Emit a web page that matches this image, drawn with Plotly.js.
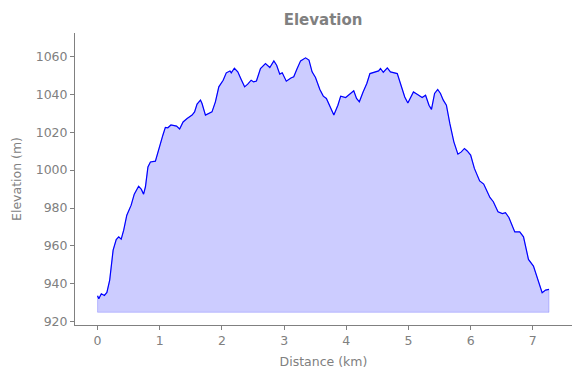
<!DOCTYPE html>
<html>
<head>
<meta charset="utf-8">
<script src="https://cdn.plot.ly/plotly-3.0.1.min.js"></script>
<style>html,body{margin:0;padding:0;background:#fff;}#chart{width:580px;height:378px;}</style>
</head>
<body>
<div id="chart"></div>
<script>
const distanceKm = [0, 0.02, 0.06, 0.11, 0.15, 0.195, 0.25, 0.30, 0.34, 0.38, 0.42, 0.47, 0.54, 0.59, 0.66, 0.705, 0.74, 0.77, 0.81, 0.85, 0.93, 0.97, 1.01, 1.05, 1.09, 1.13, 1.18, 1.27, 1.32, 1.375, 1.44, 1.52, 1.56, 1.60, 1.655, 1.68, 1.735, 1.79, 1.84, 1.895, 1.95, 2.02, 2.07, 2.13, 2.15, 2.20, 2.255, 2.31, 2.365, 2.415, 2.47, 2.51, 2.555, 2.62, 2.70, 2.77, 2.835, 2.88, 2.93, 2.97, 3.035, 3.11, 3.155, 3.21, 3.265, 3.345, 3.40, 3.45, 3.505, 3.575, 3.63, 3.68, 3.745, 3.80, 3.865, 3.91, 3.99, 4.06, 4.12, 4.165, 4.21, 4.27, 4.33, 4.38, 4.455, 4.52, 4.55, 4.595, 4.66, 4.71, 4.82, 4.885, 4.94, 4.99, 5.08, 5.14, 5.22, 5.275, 5.33, 5.37, 5.42, 5.47, 5.515, 5.56, 5.61, 5.665, 5.73, 5.795, 5.85, 5.90, 5.945, 6.00, 6.06, 6.145, 6.21, 6.31, 6.365, 6.44, 6.51, 6.56, 6.615, 6.71, 6.79, 6.85, 6.93, 7.01, 7.10, 7.15, 7.205, 7.26];
const elevationM = [933.7, 932.1, 934.8, 933.9, 935.5, 942, 957.8, 963.4, 964.8, 963.6, 968.3, 976.2, 981.5, 987.3, 991.5, 989.8, 987.3, 991.2, 1001.7, 1004.3, 1004.7, 1009.6, 1014.9, 1018.4, 1022.5, 1022.3, 1023.8, 1023.2, 1021.7, 1025.4, 1027.2, 1029, 1030.7, 1034.8, 1036.9, 1035.1, 1029, 1029.9, 1030.7, 1036, 1043.9, 1047.4, 1051.3, 1052.3, 1051.3, 1053.7, 1051.8, 1047.8, 1043.9, 1045.3, 1047.4, 1046.5, 1047, 1053.6, 1056.2, 1054.1, 1057.6, 1055.3, 1050.6, 1051.3, 1046.9, 1048.6, 1049.2, 1053.6, 1057.6, 1059.2, 1058, 1051.8, 1048.8, 1042.5, 1039, 1037.8, 1032.5, 1029, 1034.2, 1039, 1038.3, 1040.4, 1041.8, 1037.8, 1036, 1041.2, 1045.7, 1050.9, 1051.5, 1052.3, 1053.6, 1051.6, 1053.9, 1051.8, 1050.9, 1044.8, 1038.6, 1035.4, 1041.2, 1040, 1038.3, 1039.5, 1034.2, 1032, 1040.4, 1042.5, 1040.4, 1036.9, 1034.2, 1024.6, 1014.9, 1008.4, 1009.6, 1011.4, 1010.1, 1007.9, 1000.9, 994.3, 992.6, 985.6, 983.3, 978, 977.1, 977.5, 975, 967.4, 967.4, 964.8, 952.9, 949.4, 940.2, 935.3, 936.7, 937.1];
const baseElevation = 925;
const xTicks = [0, 1, 2, 3, 4, 5, 6, 7];
const yTicks = [920, 940, 960, 980, 1000, 1020, 1040, 1060];

const n = distanceKm.length;
const fillX = distanceKm.concat([distanceKm[n - 1], distanceKm[0], distanceKm[0]]);
const fillY = elevationM.concat([baseElevation, baseElevation, elevationM[0]]);

const gray = '#808080';
const font = {family: 'DejaVu Sans, sans-serif', size: 12.5, color: gray};

const traces = [
  {x: fillX, y: fillY, type: 'scatter', mode: 'lines', fill: 'toself',
   fillcolor: 'rgba(0,0,255,0.2)', line: {color: 'rgba(0,0,255,0.2)', width: 1},
   hoverinfo: 'skip', showlegend: false},
  {x: distanceKm, y: elevationM, type: 'scatter', mode: 'lines',
   line: {color: '#0000ff', width: 1.2}, showlegend: false}
];

const axisCommon = {
  showgrid: false, zeroline: false, showline: true, linecolor: gray, linewidth: 1,
  ticks: 'outside', ticklen: 4, tickcolor: gray, tickwidth: 1,
  tickfont: font, mirror: false
};

const layout = {
  width: 580, height: 378,
  margin: {l: 75, r: 8, t: 33, b: 53},
  paper_bgcolor: '#fff', plot_bgcolor: '#fff',
  font: font,
  title: {text: 'Elevation', font: {family: 'DejaVu Sans, sans-serif', size: 15, color: gray, weight: 'bold'},
          x: 0.557, xanchor: 'center', y: 0.949, yanchor: 'middle'},
  xaxis: Object.assign({}, axisCommon, {
    range: [-0.363, 7.63], tickvals: xTicks, ticktext: xTicks.map(String),
    title: {text: 'Distance (km)', font: font, standoff: 10}
  }),
  yaxis: Object.assign({}, axisCommon, {
    range: [918.3, 1072.3], tickvals: yTicks, ticktext: yTicks.map(String),
    title: {text: 'Elevation (m)', font: font, standoff: 11}
  })
};

Plotly.newPlot('chart', traces, layout, {displayModeBar: false, staticPlot: true});
</script>
</body>
</html>
